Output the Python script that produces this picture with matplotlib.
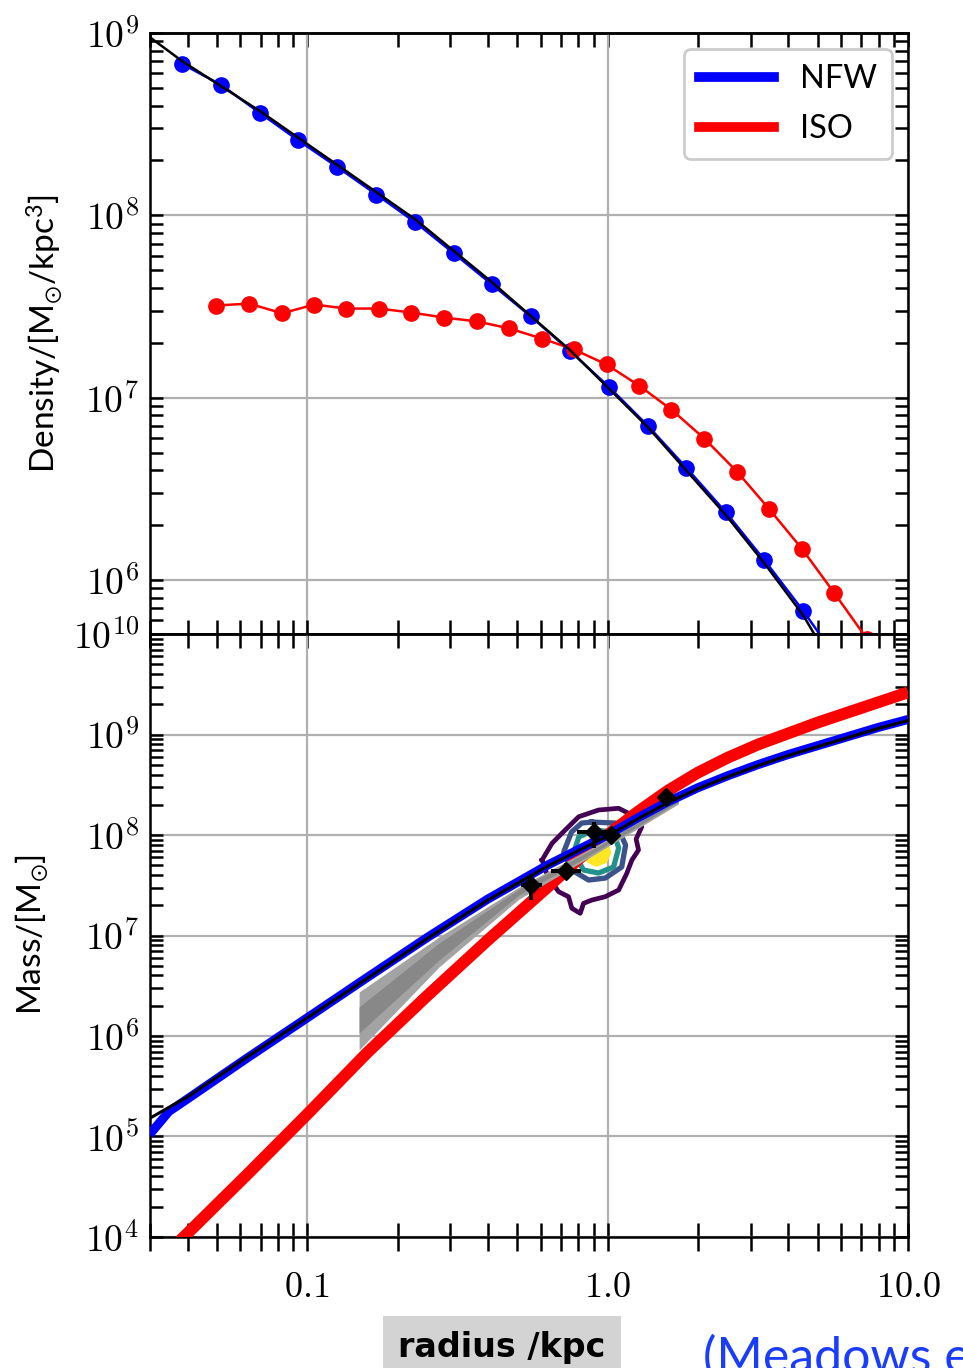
import numpy as np
import matplotlib
matplotlib.use("Agg")
import matplotlib.pyplot as plt
from matplotlib.ticker import LogLocator, FuncFormatter, NullFormatter

plt.rcParams['mathtext.fontset'] = 'cm'
plt.rcParams['mathtext.default'] = 'regular'
plt.rcParams['font.family'] = ['Lato', 'DejaVu Sans']

# ---------------- density profiles (kpc, Msun/kpc^3) ----------------
r_nfw = [0.0384, 0.0518, 0.0698, 0.0933, 0.126, 0.170, 0.229, 0.308, 0.412,
         0.555, 0.748, 1.008, 1.36, 1.83, 2.47, 3.32, 4.48, 6.04]
rho_nfw = [6.76e8, 5.18e8, 3.63e8, 2.58e8, 1.84e8, 1.30e8, 9.16e7, 6.18e7, 4.18e7,
           2.79e7, 1.81e7, 1.15e7, 7.02e6, 4.12e6, 2.36e6, 1.29e6, 6.76e5, 3.37e5]

r_iso = [0.0499, 0.0641, 0.0826, 0.1055, 0.1349, 0.1734, 0.2218, 0.285, 0.367,
         0.469, 0.604, 0.771, 0.992, 1.277, 1.632, 2.10, 2.70, 3.45, 4.44, 5.68, 7.31]
rho_iso = [3.20e7, 3.28e7, 2.90e7, 3.24e7, 3.08e7, 3.08e7, 2.93e7, 2.75e7, 2.62e7,
           2.40e7, 2.11e7, 1.84e7, 1.52e7, 1.16e7, 8.59e6, 5.96e6, 3.92e6, 2.45e6,
           1.48e6, 8.49e5, 4.74e5]

r_fit = [0.0299, 0.0384, 0.0698, 0.126, 0.229, 0.412, 0.748, 1.36, 2.47, 3.32, 4.48, 5.5]
rho_fit = [9.5e8, 7.0e8, 3.72e8, 1.89e8, 9.5e7, 4.3e7, 1.83e7, 6.9e6, 2.28e6,
           1.24e6, 6.4e5, 3.6e5]

# ---------------- enclosed mass (kpc, log10 Msun) ----------------
r_m_iso = [0.0316, 0.0398, 0.0631, 0.1, 0.158, 0.251, 0.398, 0.631, 0.794, 1.0,
           1.259, 1.585, 1.995, 2.512, 3.162, 3.981, 5.012, 6.31, 7.943, 10.0]
logm_iso = [3.74, 4.03, 4.62, 5.22, 5.83, 6.40, 6.95, 7.48, 7.75, 8.00,
            8.23, 8.44, 8.62, 8.77, 8.90, 9.01, 9.12, 9.22, 9.32, 9.42]

r_m_nfw = [0.0299, 0.0347, 0.0398, 0.0631, 0.1, 0.158, 0.251, 0.398, 0.631, 1.0,
           1.259, 1.585, 1.995, 2.512, 3.162, 3.981, 5.012, 6.31, 7.943, 10.0]
logm_nfw = [5.02, 5.25, 5.37, 5.78, 6.18, 6.58, 6.98, 7.36, 7.70, 8.00,
            8.17, 8.33, 8.47, 8.59, 8.70, 8.80, 8.89, 8.98, 9.07, 9.15]

r_m_fit = [0.0299, 0.0347, 0.0398, 0.0631, 0.1, 0.158, 0.251, 0.398, 0.631, 1.0,
           1.259, 1.585, 1.995, 2.512, 3.162, 3.981, 5.012, 6.31, 7.943, 10.0]
logm_fit = [5.18, 5.29, 5.39, 5.79, 6.18, 6.57, 6.97, 7.35, 7.69, 7.99,
            8.16, 8.32, 8.46, 8.58, 8.69, 8.79, 8.88, 8.97, 9.06, 9.14]

# mass estimator band (log r, log M)
band_logr = [-0.827, -0.561, -0.296, -0.030, 0.236]
band_outer_hi = [6.438, 6.985, 7.48, 7.91, 8.39]
band_outer_lo = [5.861, 6.687, 7.36, 7.83, 8.31]
band_inner_hi = [6.289, 6.925, 7.46, 7.89, 8.37]
band_inner_lo = [6.030, 6.756, 7.40, 7.85, 8.33]

# mass measurements with uncertainties
pt_r = [0.555, 0.725, 0.898]
pt_m = [3.18e7, 4.38e7, 1.07e8]
pt_r_lo = [0.514, 0.647, 0.789]
pt_r_hi = [0.604, 0.813, 1.008]
pt_m_lo = [2.25e7, 3.73e7, 7.43e7]
pt_m_hi = [4.0e7, 5.26e7, 1.35e8]
pt2_r = [1.023, 1.57]
pt2_m = [1.0e8, 2.39e8]

# posterior contours (log r, log M)
c1_logr = [-0.218, -0.185, -0.141, -0.096, -0.030, 0.037, 0.070, 0.114, 0.095, 0.103,
           0.081, 0.064, 0.037, -0.008, -0.052, -0.080, -0.091, -0.119, -0.130,
           -0.163, -0.179, -0.203]
c1_logm = [7.751, 7.917, 8.050, 8.182, 8.249, 8.266, 8.216, 8.083, 7.960, 7.851,
           7.751, 7.619, 7.453, 7.386, 7.353, 7.320, 7.221, 7.271, 7.386,
           7.436, 7.502, 7.622]
c2_logr = [-0.053, 0.027, 0.060, 0.047, -0.007, -0.063, -0.120, -0.146, -0.120, -0.086]
c2_logm = [8.129, 8.119, 7.900, 7.682, 7.572, 7.552, 7.652, 7.831, 8.030, 8.119]
c3_logr = [-0.047, 0.020, 0.037, 0.020, -0.030, -0.080, -0.113, -0.096]
c3_logm = [8.050, 8.030, 7.871, 7.682, 7.622, 7.652, 7.821, 7.980]
c4_logr = [-0.040, 0.003, 0.013, -0.003, -0.040, -0.070, -0.073]
c4_logm = [7.970, 7.930, 7.821, 7.721, 7.682, 7.731, 7.851]

x_ticklabels = {0.1: '0.1', 1.0: '1.0', 10.0: '10.0'}

fig = plt.figure(figsize=(9.63, 13.68), dpi=100)
ax1 = fig.add_axes([0.1558, 0.5365, 0.7871, 0.4394])
ax2 = fig.add_axes([0.1558, 0.0958, 0.7871, 0.4407])

GRID = '#b0b0b0'


def style_axis(ax, show_xlabels):
    ax.set_xscale('log')
    ax.set_yscale('log')
    ax.set_xlim(0.03, 10.0)
    ax.grid(True, which='major', color=GRID, lw=1.6, zorder=0)
    ax.set_axisbelow(True)
    for s in ax.spines.values():
        s.set_linewidth(1.8)
    ax.xaxis.set_major_locator(LogLocator(base=10, numticks=20))
    ax.xaxis.set_minor_locator(LogLocator(base=10, subs=np.arange(2, 10), numticks=20))
    ax.yaxis.set_major_locator(LogLocator(base=10, numticks=20))
    ax.yaxis.set_minor_locator(LogLocator(base=10, subs=np.arange(2, 10), numticks=20))
    ax.xaxis.set_minor_formatter(NullFormatter())
    ax.yaxis.set_minor_formatter(NullFormatter())
    ax.yaxis.set_major_formatter(FuncFormatter(
        lambda v, p: r'$\mathrm{10^{%d}}$' % int(round(np.log10(v)))))
    if show_xlabels:
        ax.xaxis.set_major_formatter(FuncFormatter(
            lambda v, p: r'$\mathrm{%s}$' % x_ticklabels.get(round(v, 3), '')))
    else:
        ax.xaxis.set_major_formatter(NullFormatter())
    ax.tick_params(axis='y', which='both', direction='in', length=9.5, width=1.8,
                   left=True, right=True, labelsize=27, pad=8)
    ax.tick_params(axis='x', which='both', direction='inout', length=19.5, width=1.8,
                   bottom=True, top=False, labelsize=26, pad=14)
    sec = ax.secondary_xaxis('top')
    sec.xaxis.set_major_locator(LogLocator(base=10, numticks=20))
    sec.xaxis.set_minor_locator(LogLocator(base=10, subs=np.arange(2, 10), numticks=20))
    sec.xaxis.set_major_formatter(NullFormatter())
    sec.xaxis.set_minor_formatter(NullFormatter())
    sec.tick_params(axis='x', which='both', direction='in', length=10, width=1.8)
    sec.spines['top'].set_linewidth(1.8)


# ---- top: density ----
style_axis(ax1, False)
ax1.set_ylim(5.05e5, 1e9)
ax1.plot(r_nfw, rho_nfw, '-o', color='blue', lw=1.8, ms=11, zorder=3, label='NFW')
ax1.plot(r_iso, rho_iso, '-o', color='red', lw=1.8, ms=11, zorder=3, label='ISO')
ax1.plot(r_fit, rho_fit, '-', color='black', lw=1.8, zorder=4)
leg_handles = [plt.Line2D([], [], color='blue', lw=7), plt.Line2D([], [], color='red', lw=7)]
leg = ax1.legend(leg_handles, ['NFW', 'ISO'], loc='upper right', fontsize=23.5,
                 handlelength=2.3, labelspacing=0.62, borderpad=0.45,
                 fancybox=True, framealpha=1.0)
leg.get_frame().set_edgecolor('#cccccc')
leg.get_frame().set_linewidth(2.0)

# ---- bottom: enclosed mass ----
style_axis(ax2, True)
ax2.set_ylim(1e4, 1e10)

for lr, lm, col, lw in [(c1_logr, c1_logm, '#440154', 3.4),
                        (c2_logr, c2_logm, '#3b528b', 3.8),
                        (c3_logr, c3_logm, '#21918c', 3.8)]:
    rr = 10 ** np.array(lr + lr[:1])
    mm = 10 ** np.array(lm + lm[:1])
    ax2.plot(rr, mm, color=col, lw=lw, zorder=2, solid_joinstyle='round')
ax2.fill(10 ** np.array(c4_logr), 10 ** np.array(c4_logm), color='#fde725', lw=0, zorder=2)

ax2.plot(r_m_iso, 10 ** np.array(logm_iso), color='red', lw=8.5, zorder=3,
         solid_capstyle='butt', solid_joinstyle='round')
br = 10 ** np.array(band_logr)
ax2.fill_between(br, 10 ** np.array(band_outer_lo), 10 ** np.array(band_outer_hi),
                 color='#a3a3a3', lw=0, zorder=4)
ax2.fill_between(br, 10 ** np.array(band_inner_lo), 10 ** np.array(band_inner_hi),
                 color='#888888', lw=0, zorder=4)
ax2.plot(r_m_nfw, 10 ** np.array(logm_nfw), color='blue', lw=6.5, zorder=5,
         solid_capstyle='butt', solid_joinstyle='round')
ax2.plot(r_m_fit, 10 ** np.array(logm_fit), color='black', lw=2.2, zorder=6)

xerr = [np.array(pt_r) - np.array(pt_r_lo), np.array(pt_r_hi) - np.array(pt_r)]
yerr = [np.array(pt_m) - np.array(pt_m_lo), np.array(pt_m_hi) - np.array(pt_m)]
ax2.errorbar(pt_r, pt_m, xerr=xerr, yerr=yerr, fmt='D', color='black', ms=9,
             elinewidth=2.9, capsize=0, zorder=7)
ax2.plot(pt2_r, pt2_m, 'D', color='black', ms=9.5, zorder=7)

# ---- labels ----
fig.text(45 / 963, 1 - 333 / 1368, r'Density/[M$_{\odot}$/kpc$^{3}$]', rotation=90,
         ha='center', va='center', fontsize=24)
fig.text(32 / 963, 1 - 935 / 1368, r'Mass/[M$_{\odot}$]', rotation=90,
         ha='center', va='center', fontsize=24)
fig.text(502 / 963, 1 - 1347 / 1368, 'radius /kpc', ha='center', va='center',
         fontsize=24, fontweight='bold', family=['Liberation Sans Narrow', 'DejaVu Sans'],
         bbox=dict(boxstyle='square,pad=0.45', fc='#d3d3d3', ec='none'))
fig.text(703 / 963, 1 - 1358 / 1368, '(Meadows et al.', ha='left', va='center',
         fontsize=36, color='#1a3cff')

fig.savefig('out.png', dpi=100)
